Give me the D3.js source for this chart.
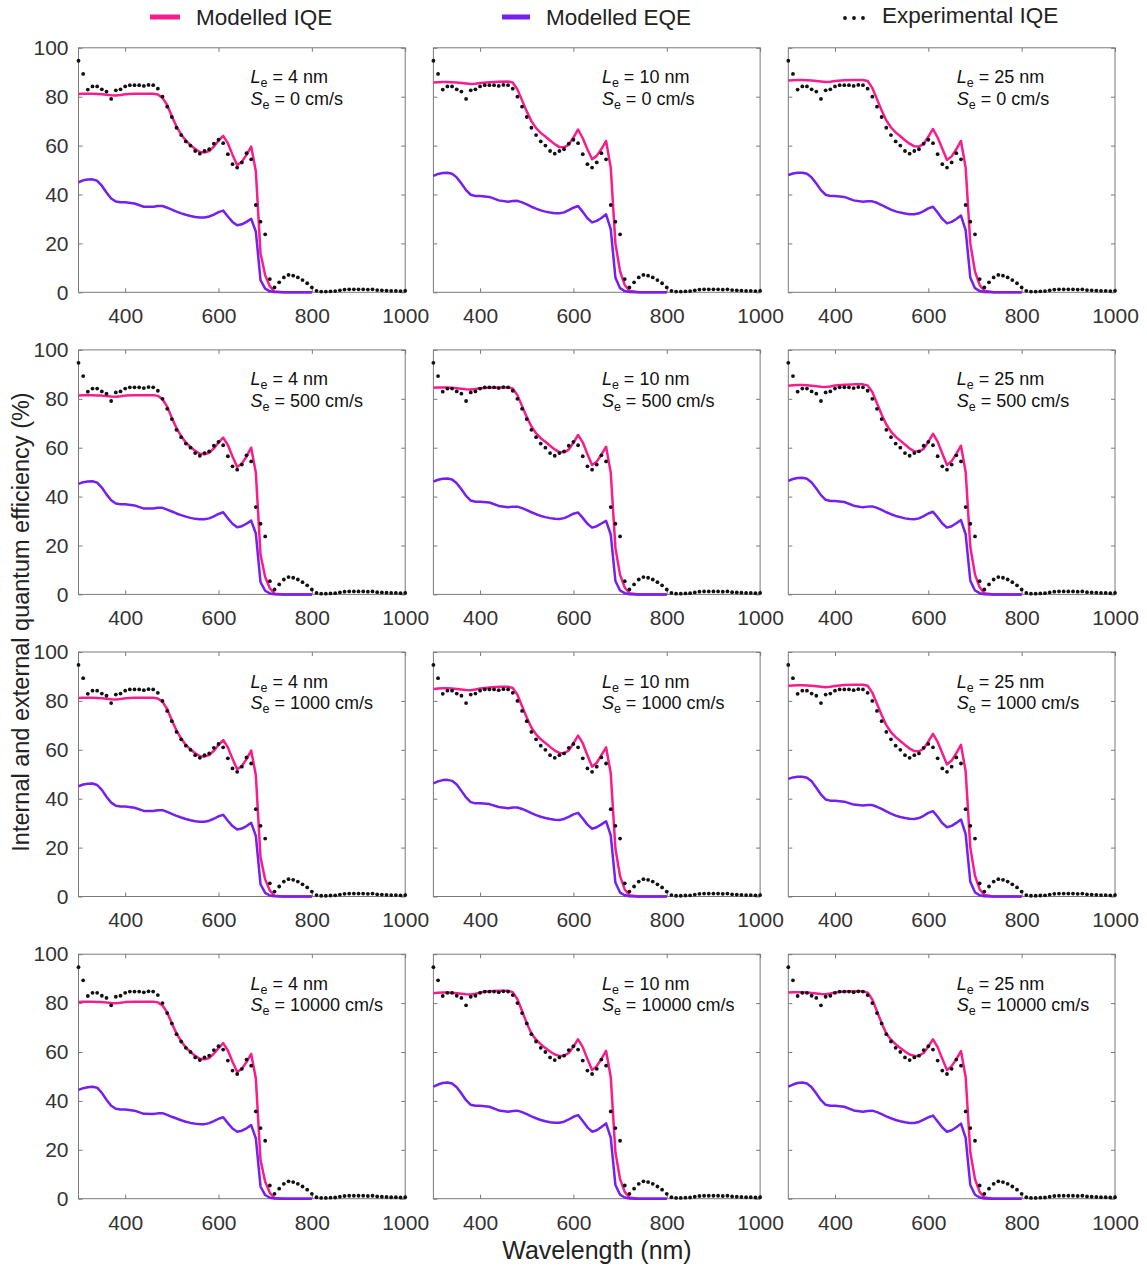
<!DOCTYPE html>
<html>
<head>
<meta charset="utf-8">
<script src="https://cdn.jsdelivr.net/npm/d3@7"></script>
<style>
  body { margin: 0; background: #fff; }
  svg { display: block; font-family: "Liberation Sans", Arial, Helvetica, sans-serif; }
</style>
</head>
<body>
<svg id="chart" width="1147" height="1271"></svg>
<script>
// ---------- data ----------
// Experimental IQE (%), measured every 10 nm
const expWavelengths = [300,310,320,330,340,350,360,370,380,390,400,410,420,430,440,450,460,470,480,490,
  500,510,520,530,540,550,560,570,580,590,600,610,620,630,640,650,660,670,680,690,
  700,710,720,730,740,750,760,770,780,790,800,810,820,830,840,850,860,870,880,890,
  900,910,920,930,940,950,960,970,980,990,1000];
const expIQE = [94.7,89.3,82.9,84.2,84.2,83.0,82.1,79.1,82.6,83.0,84.2,84.7,84.7,84.7,84.4,84.8,84.7,83.3,80.0,75.9,
  71.7,67.3,64.3,61.7,60.0,57.8,56.7,57.8,58.5,60.8,62.4,61.0,56.5,52.4,51.0,53.1,56.9,54.4,35.7,28.9,
  23.7,5.4,2.0,4.1,6.1,7.1,6.8,6.1,5.0,3.7,2.0,0.6,0.3,0.3,0.4,0.5,0.8,1.1,1.2,1.2,
  1.2,1.2,1.1,1.2,0.9,0.8,0.7,0.6,0.6,0.5,0.6];

// Wavelength grid of the modelled curves (nm)
const modelWavelengths = [300,310,320,330,340,350,360,370,380,390,400,420,440,460,470,480,490,500,510,520,
  530,540,550,560,570,580,590,600,610,620,630,640,650,660,670,680,690,700,710,720,740,800];

// Modelled IQE / EQE (%), one pair per (Le, Se) combination
const iqeLe4Se0 = [81.1,81.2,81.2,81.2,81.1,81.0,80.8,80.6,80.5,80.7,81.0,81.2,81.2,81.2,80.9,79.5,76.6,72.0,67.8,64.6,
  62.0,60.2,58.6,57.4,57.2,57.8,59.6,62.0,64.0,61.0,56.3,52.0,53.4,56.2,59.6,49.5,16.0,7.0,2.5,0.3,0,0];
const eqeLe4Se0 = [45.0,45.8,46.1,46.2,45.6,43.6,40.8,38.4,37.1,36.8,36.8,36.3,35.0,35.0,35.3,35.3,34.6,33.8,33.0,32.3,
  31.7,31.2,30.8,30.6,30.6,31.0,31.8,32.8,33.4,31.0,28.8,27.4,27.8,28.8,30.1,24.8,5.0,1.5,0.4,0.1,0,0];

const iqeLe10Se0 = [85.8,85.9,86.0,86.0,85.9,85.8,85.6,85.4,85.2,85.3,85.6,85.9,86.1,86.2,85.8,83.0,78.5,74.0,70.0,67.2,
  65.2,63.7,62.1,60.6,59.4,59.3,60.4,63.3,66.6,63.0,58.5,54.4,55.8,58.6,61.9,51.0,20.0,8.5,3.0,0.6,0,0];
const eqeLe10Se0 = [47.6,48.4,48.8,48.9,48.5,47.0,44.5,41.8,39.9,39.4,39.4,39.0,37.6,37.0,37.3,37.4,36.8,36.0,35.0,34.2,
  33.5,33.0,32.6,32.3,32.3,32.7,33.6,34.6,35.3,32.9,30.3,28.6,29.2,30.4,31.9,25.8,6.0,1.7,0.5,0.1,0,0];

const iqeLe25Se0 = [86.6,86.7,86.8,86.8,86.7,86.6,86.4,86.2,86.0,86.1,86.4,86.7,86.8,86.8,86.4,83.6,79.0,74.4,70.3,67.4,
  65.4,63.8,62.2,60.8,59.7,59.6,60.7,63.6,66.8,63.3,58.7,54.1,55.6,58.5,61.9,51.0,20.0,8.5,3.0,0.6,0,0];
const eqeLe25Se0 = [48.0,48.6,48.9,48.9,48.5,47.0,44.5,41.8,39.9,39.4,39.4,39.0,37.6,37.0,37.2,37.2,36.6,35.7,34.7,33.8,
  33.1,32.6,32.2,31.9,31.9,32.3,33.2,34.3,35.0,32.6,30.0,28.2,28.8,30.0,31.4,25.4,6.0,1.7,0.5,0.1,0,0];

const iqeLe4Se500 = [81.4,81.5,81.5,81.5,81.4,81.3,81.1,80.9,80.8,81.0,81.3,81.5,81.5,81.5,81.2,79.8,76.8,72.2,68.0,64.7,
  62.1,60.3,58.7,57.5,57.3,57.9,59.7,62.1,64.1,61.1,56.4,52.1,53.5,56.4,60.0,49.8,16.2,7.1,2.5,0.3,0,0];
const eqeLe4Se500 = [45.2,45.9,46.2,46.3,45.7,43.7,40.9,38.5,37.2,36.9,36.9,36.4,35.1,35.1,35.4,35.4,34.7,33.9,33.1,32.4,
  31.8,31.3,30.9,30.7,30.7,31.1,31.9,32.9,33.6,31.1,28.9,27.5,27.9,28.9,30.2,24.9,5.0,1.5,0.4,0.1,0,0];

const iqeLe10Se500 = [84.5,84.6,84.6,84.6,84.5,84.3,84.1,83.9,83.8,84.0,84.3,84.5,84.6,84.6,84.2,81.5,77.0,72.6,68.7,65.9,
  63.9,62.4,60.8,59.3,58.2,58.1,59.2,62.0,65.2,62.2,57.4,52.9,54.3,57.2,60.4,49.8,19.0,8.0,2.8,0.5,0,0];
const eqeLe10Se500 = [46.1,46.9,47.3,47.4,47.0,45.5,43.0,40.3,38.4,37.9,37.9,37.6,36.2,35.6,35.9,35.9,35.3,34.5,33.6,32.8,
  32.1,31.6,31.2,30.9,30.8,31.2,32.0,33.0,33.5,31.3,28.9,27.3,27.9,29.0,30.1,24.5,5.5,1.6,0.5,0.1,0,0];

const iqeLe25Se500 = [85.3,85.5,85.6,85.6,85.5,85.3,85.1,84.9,84.8,85.0,85.4,85.7,85.9,85.9,85.5,82.8,78.2,73.6,69.5,66.6,
  64.5,62.9,61.3,59.7,58.5,58.4,59.5,62.4,65.7,62.5,57.6,52.9,54.5,57.5,60.8,50.2,19.4,8.2,2.9,0.5,0,0];
const eqeLe25Se500 = [46.4,47.2,47.6,47.7,47.3,45.8,43.3,40.6,38.7,38.2,38.2,37.8,36.3,35.6,35.9,36.0,35.4,34.6,33.6,32.8,
  32.1,31.6,31.1,30.8,30.7,31.1,32.0,33.1,33.8,31.5,29.0,27.3,27.9,29.1,30.4,24.6,5.6,1.6,0.5,0.1,0,0];

const iqeLe4Se1000 = [81.2,81.3,81.3,81.3,81.2,81.1,80.9,80.7,80.6,80.8,81.1,81.3,81.3,81.3,81.0,79.6,76.7,72.1,67.9,64.6,
  62.0,60.2,58.6,57.4,57.2,57.8,59.6,62.0,64.0,61.0,56.3,52.0,53.4,56.2,59.7,49.6,16.0,7.0,2.5,0.3,0,0];
const eqeLe4Se1000 = [45.1,45.8,46.1,46.2,45.6,43.6,40.8,38.4,37.1,36.8,36.8,36.3,35.0,35.0,35.3,35.3,34.6,33.8,33.0,32.3,
  31.7,31.2,30.8,30.6,30.6,31.0,31.8,32.8,33.4,31.0,28.8,27.4,27.8,28.8,30.1,24.8,5.0,1.5,0.4,0.1,0,0];

const iqeLe10Se1000 = [84.9,85.1,85.2,85.2,85.1,84.9,84.7,84.5,84.4,84.7,85.1,85.5,85.8,85.8,85.3,82.5,77.8,73.2,69.1,66.3,
  64.3,62.8,61.2,59.7,58.7,58.6,59.7,62.6,65.8,62.7,57.8,53.1,54.7,57.8,61.0,50.4,19.6,8.3,2.9,0.5,0,0];
const eqeLe10Se1000 = [46.3,47.1,47.6,47.7,47.3,45.8,43.2,40.5,38.6,38.1,38.1,37.8,36.6,36.1,36.4,36.4,35.8,35.0,34.1,33.3,
  32.6,32.1,31.7,31.4,31.3,31.7,32.6,33.6,34.2,31.9,29.4,27.7,28.3,29.5,30.8,25.0,5.7,1.6,0.5,0.1,0,0];

const iqeLe25Se1000 = [86.2,86.3,86.4,86.4,86.3,86.2,86.0,85.8,85.6,85.8,86.1,86.5,86.6,86.6,86.2,83.4,78.8,74.2,70.1,67.2,
  65.2,63.6,62.0,60.5,59.5,59.4,60.5,63.4,66.5,63.2,58.6,54.0,55.6,58.6,62.0,51.2,20.0,8.5,3.0,0.6,0,0];
const eqeLe25Se1000 = [48.1,48.7,49.0,49.0,48.6,47.1,44.5,41.7,39.7,39.2,39.2,38.8,37.6,37.2,37.4,37.4,36.7,35.8,34.8,33.9,
  33.1,32.5,32.1,31.8,31.7,32.1,33.0,34.2,34.9,32.6,30.0,28.3,28.9,30.1,31.5,25.5,6.0,1.7,0.5,0.1,0,0];

const iqeLe4Se10000 = [80.5,80.6,80.6,80.6,80.5,80.4,80.2,80.0,79.9,80.1,80.4,80.6,80.6,80.6,80.3,79.0,76.2,71.7,67.6,64.4,
  61.8,60.0,58.4,57.2,57.0,57.5,59.3,61.6,63.6,60.6,56.0,51.8,53.1,55.9,59.2,49.2,15.8,6.9,2.4,0.3,0,0];
const eqeLe4Se10000 = [44.5,45.2,45.6,45.8,45.4,43.3,40.5,38.0,36.8,36.5,36.5,36.0,34.7,34.6,34.9,35.0,34.3,33.5,32.8,32.1,
  31.5,31.0,30.7,30.5,30.5,30.9,31.7,32.7,33.3,30.9,28.7,27.4,27.8,28.8,30.1,24.7,5.0,1.5,0.4,0.1,0,0];

const iqeLe10Se10000 = [84.0,84.2,84.3,84.3,84.2,84.0,83.8,83.6,83.5,83.8,84.3,84.8,85.1,85.1,84.5,81.6,76.8,71.8,67.6,65.0,
  63.2,61.6,60.2,59.0,58.4,58.5,59.6,62.2,65.2,62.0,57.2,52.6,54.2,57.2,60.5,49.8,19.0,8.0,2.8,0.5,0,0];
const eqeLe10Se10000 = [45.8,46.7,47.3,47.5,47.1,45.6,43.0,40.3,38.4,38.0,38.0,37.6,36.1,35.6,35.9,36.0,35.4,34.6,33.7,32.9,
  32.2,31.7,31.3,31.1,31.1,31.5,32.4,33.5,34.2,31.8,29.2,27.4,28.0,29.3,30.8,25.0,5.6,1.6,0.5,0.1,0,0];

const iqeLe25Se10000 = [84.3,84.4,84.4,84.4,84.3,84.1,83.9,83.7,83.6,83.9,84.3,84.7,84.8,84.8,84.3,81.5,76.7,71.8,67.6,65.0,
  63.2,61.6,60.2,59.0,58.4,58.5,59.6,62.2,65.2,62.0,57.2,52.6,54.2,57.1,60.4,49.8,19.0,8.0,2.8,0.5,0,0];
const eqeLe25Se10000 = [45.8,46.7,47.3,47.5,47.1,45.6,43.0,40.3,38.4,38.0,38.0,37.6,36.1,35.6,35.9,36.0,35.4,34.6,33.7,32.9,
  32.2,31.7,31.3,31.0,31.0,31.4,32.3,33.3,34.0,31.6,29.1,27.4,28.0,29.2,30.7,24.9,5.6,1.6,0.5,0.1,0,0];

// Panel parameters and tick labels
const diffusionLengths = ["4", "10", "25"];           // Le (nm), one per column
const recombVelocities = ["0", "500", "1000", "10000"]; // Se (cm/s), one per row
const xTickValues = [400, 600, 800, 1000];
const yTickValues = [0, 20, 40, 60, 80, 100];
const seriesNames = ["Modelled IQE", "Modelled EQE", "Experimental IQE"];

// rows = Se, columns = Le
const panelCurves = [
  [[iqeLe4Se0, eqeLe4Se0], [iqeLe10Se0, eqeLe10Se0], [iqeLe25Se0, eqeLe25Se0]],
  [[iqeLe4Se500, eqeLe4Se500], [iqeLe10Se500, eqeLe10Se500], [iqeLe25Se500, eqeLe25Se500]],
  [[iqeLe4Se1000, eqeLe4Se1000], [iqeLe10Se1000, eqeLe10Se1000], [iqeLe25Se1000, eqeLe25Se1000]],
  [[iqeLe4Se10000, eqeLe4Se10000], [iqeLe10Se10000, eqeLe10Se10000], [iqeLe25Se10000, eqeLe25Se10000]]
];

// ---------- layout & style ----------
const PINK = "#f81d8c", PURPLE = "#7420ef", DOT = "#111";
const AXIS = "#7a7a7a", TEXT = "#333";
const colX = [78.5, 433.4, 788.3];
const rowY = [47.8, 349.9, 652.0, 954.2];
const W = 326.7, H = 244.5;
const annX = [172, 168.5, 168.5];

const svg = d3.select("#chart");
const x = d3.scaleLinear().domain([300, 1000]).range([0, W]);
const y = d3.scaleLinear().domain([0, 100]).range([H, 0]);

const line = vals => d3.line()
  .x((d, i) => x(modelWavelengths[i]))
  .y(d => y(d))(vals);

function styleAxis(sel) {
  sel.select(".domain").remove();
  sel.selectAll(".tick line").attr("stroke", AXIS).attr("stroke-width", 1);
  sel.selectAll(".tick text").attr("fill", TEXT).attr("font-size", 21);
}

panelCurves.forEach((row, r) => {
  row.forEach(([iqe, eqe], c) => {
    const g = svg.append("g").attr("transform", `translate(${colX[c]},${rowY[r]})`);

    // ticks, pointing inwards on all four sides
    g.append("g").attr("transform", `translate(0,${H})`)
      .call(d3.axisBottom(x).tickValues(xTickValues).tickSize(-4).tickPadding(16).tickFormat(d3.format("d")))
      .call(styleAxis);
    g.append("g")
      .call(d3.axisTop(x).tickValues(xTickValues).tickSize(-4).tickFormat(""))
      .call(styleAxis);
    g.append("g")
      .call(d3.axisLeft(y).tickValues(yTickValues).tickSize(-4).tickPadding(10)
        .tickFormat(c === 0 ? d3.format("d") : ""))
      .call(styleAxis);
    g.append("g").attr("transform", `translate(${W},0)`)
      .call(d3.axisRight(y).tickValues(yTickValues).tickSize(-4).tickFormat(""))
      .call(styleAxis);

    g.append("rect").attr("width", W).attr("height", H)
      .attr("fill", "none").attr("stroke", AXIS).attr("stroke-width", 1);

    // modelled curves
    g.append("path").attr("d", line(iqe)).attr("fill", "none")
      .attr("stroke", PINK).attr("stroke-width", 2.5).attr("stroke-linejoin", "round");
    g.append("path").attr("d", line(eqe)).attr("fill", "none")
      .attr("stroke", PURPLE).attr("stroke-width", 2.5).attr("stroke-linejoin", "round");

    // experimental points
    g.selectAll("circle.exp").data(expIQE).join("circle").attr("class", "exp")
      .attr("cx", (d, i) => x(expWavelengths[i])).attr("cy", d => y(d))
      .attr("r", 1.9).attr("fill", DOT);

    // parameter annotation
    const ax = annX[c];
    const t1 = g.append("text").attr("x", ax).attr("y", 35.5).attr("font-size", 18).attr("fill", "#111");
    t1.append("tspan").attr("font-style", "italic").text("L");
    t1.append("tspan").attr("font-size", 12.5).attr("dy", 4).text("e");
    t1.append("tspan").attr("dy", -4).text(` = ${diffusionLengths[c]} nm`);
    const t2 = g.append("text").attr("x", ax).attr("y", 57).attr("font-size", 18).attr("fill", "#111");
    t2.append("tspan").attr("font-style", "italic").text("S");
    t2.append("tspan").attr("font-size", 12.5).attr("dy", 4).text("e");
    t2.append("tspan").attr("dy", -4).text(` = ${recombVelocities[r]} cm/s`);
  });
});

// legend
const legend = svg.append("g").attr("font-size", 22.5).attr("fill", "#222");
legend.append("line").attr("x1", 150).attr("x2", 180).attr("y1", 17).attr("y2", 17)
  .attr("stroke", PINK).attr("stroke-width", 5);
legend.append("text").attr("x", 196).attr("y", 25).text(seriesNames[0]);
legend.append("line").attr("x1", 502).attr("x2", 530).attr("y1", 17).attr("y2", 17)
  .attr("stroke", PURPLE).attr("stroke-width", 5);
legend.append("text").attr("x", 546).attr("y", 25).text(seriesNames[1]);
[845, 854, 863].forEach(cx => legend.append("circle").attr("cx", cx).attr("cy", 18).attr("r", 1.9).attr("fill", DOT));
legend.append("text").attr("x", 882).attr("y", 23).text(seriesNames[2]);

// axis titles
svg.append("text").attr("transform", "translate(29,622) rotate(-90)")
  .attr("text-anchor", "middle").attr("font-size", 23.5).attr("fill", "#222")
  .text("Internal and external quantum efficiency (%)");
svg.append("text").attr("x", 597).attr("y", 1259)
  .attr("text-anchor", "middle").attr("font-size", 25).attr("fill", "#222")
  .text("Wavelength (nm)");
</script>
</body>
</html>
